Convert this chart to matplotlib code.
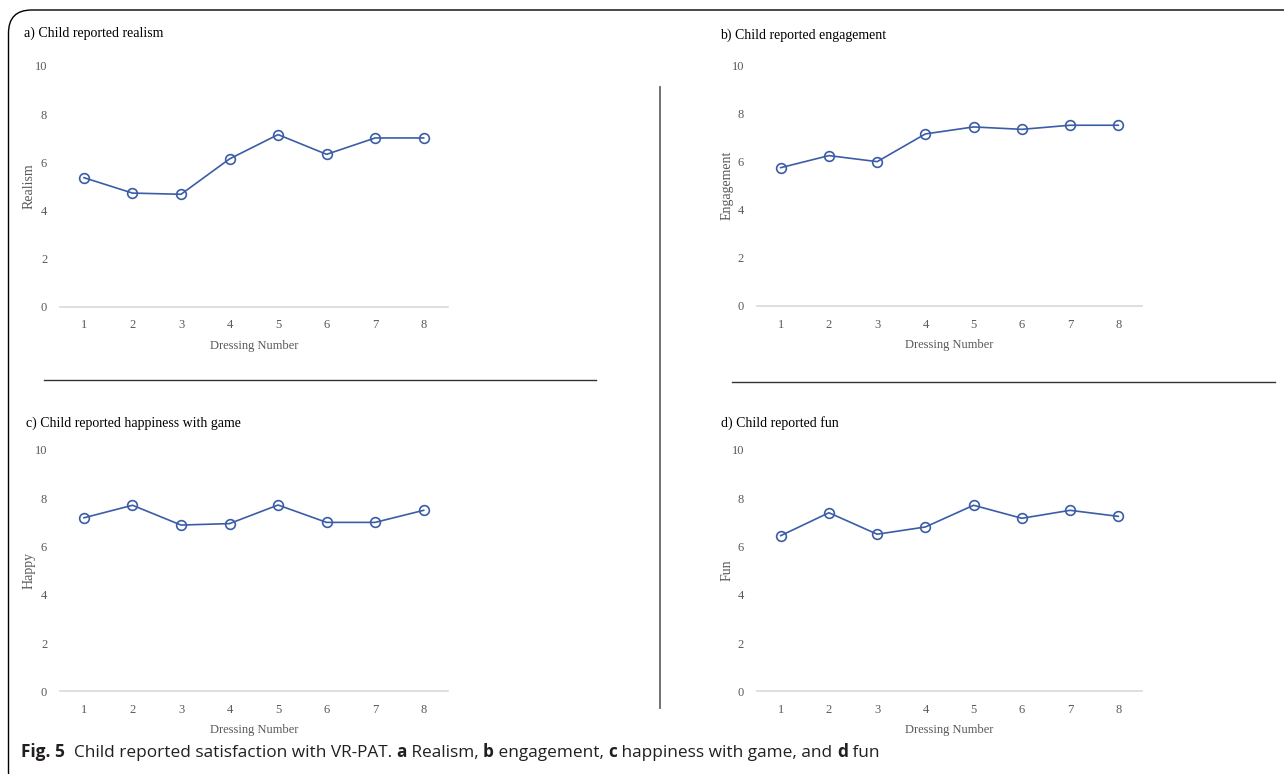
import matplotlib
matplotlib.use("Agg")
import matplotlib.pyplot as plt
from matplotlib.patches import FancyBboxPatch
from matplotlib.lines import Line2D

# ---- data ----
dressing = [1, 2, 3, 4, 5, 6, 7, 8]
realism = [5.36, 4.72, 4.67, 6.14, 7.15, 6.33, 7.01, 7.01]
engagement = [5.74, 6.24, 5.99, 7.14, 7.43, 7.33, 7.50, 7.50]
happy = [7.19, 7.71, 6.89, 6.95, 7.72, 7.00, 7.00, 7.50]
fun = [6.45, 7.40, 6.51, 6.81, 7.71, 7.17, 7.50, 7.25]
titles = ["a) Child reported realism", "b) Child reported engagement",
          "c) Child reported happiness with game", "d) Child reported fun"]
ylabels = ["Realism", "Engagement", "Happy", "Fun"]
xlabel = "Dressing Number"
yticks = [0, 2, 4, 6, 8, 10]

W, H = 1284, 774
fig = plt.figure(figsize=(W / 100, H / 100), dpi=100)

def fx(px):
    return px / W

def fy(py):
    return 1 - py / H

SERIF = "Liberation Serif"
GRAY = "#595959"
LINEC = "#3A5DA6"

# axes boxes in pixel coords: (left, right, top(y=10), bottom(y=0))
boxes = [
    (59.7, 447.9, 66.0, 306.7),
    (756.6, 1142.4, 65.0, 306.0),
    (59.7, 447.9, 450.0, 691.3),
    (756.6, 1142.4, 450.0, 691.3),
]
title_pos = [(24, 33), (720, 35), (26, 423), (720.5, 423)]
series = [realism, engagement, happy, fun]

for i in range(4):
    l, r, t, b = boxes[i]
    ax = fig.add_axes([fx(l), fy(b), fx(r) - fx(l), (b - t) / H])
    ax.plot(dressing, series[i], color=LINEC, lw=1.2, marker="o", ms=7,
            mfc="none", mec=LINEC, mew=1.2, clip_on=False)
    ax.set_xlim(0.5, 8.5)
    ax.set_ylim(0, 10)
    ax.set_xticks(dressing)
    ax.set_yticks(yticks)
    for s in ["top", "right", "left"]:
        ax.spines[s].set_visible(False)
    ax.spines["bottom"].set_color("#D9D9D9")
    ax.spines["bottom"].set_linewidth(1.2)
    ax.tick_params(length=0, colors=GRAY, labelsize=9)
    ax.tick_params(axis="x", pad=9)
    ax.tick_params(axis="y", pad=9)
    for lab in ax.get_xticklabels() + ax.get_yticklabels():
        lab.set_fontfamily(SERIF)
    ax.set_xlabel(xlabel, fontfamily=SERIF, fontsize=9, color=GRAY, labelpad=6)
    ax.set_ylabel(ylabels[i], fontfamily=SERIF, fontsize=10, color=GRAY)
    ax.yaxis.set_label_coords(-0.061, 0.5)
    ax.patch.set_alpha(0)
    tx, ty = title_pos[i]
    fig.text(fx(tx), fy(ty), titles[i], fontfamily=SERIF, fontsize=10,
             color="black", ha="left", va="center")

# separator lines
fig.add_artist(Line2D([fx(44), fx(596)], [fy(379.5), fy(379.5)], color="#333333", lw=1.0))
fig.add_artist(Line2D([fx(732), fx(1275)], [fy(382), fy(382)], color="#333333", lw=1.0))
fig.add_artist(Line2D([fx(660), fx(660)], [fy(87), fy(708)], color="#666666", lw=1.3))

# figure frame with rounded corner
frame = FancyBboxPatch((fx(8.5), fy(795)), fx(1320) - fx(8.5), (795 - 10) / H,
                       boxstyle="round,pad=0,rounding_size=0.018",
                       transform=fig.transFigure, fill=False, ec="black", lw=1.0,
                       clip_on=False, mutation_aspect=W / H)
fig.add_artist(frame)

# caption with mixed bold/normal pieces
CAP = "Open Sans"
pieces = [("Fig. 5", "bold"), ("  Child reported satisfaction with VR-PAT. ", "normal"),
          ("a", "bold"), (" Realism, ", "normal"), ("b", "bold"), (" engagement, ", "normal"),
          ("c", "bold"), (" happiness with game, and ", "normal"), ("d", "bold"), (" fun", "normal")]
prev = None
for txt, wt in pieces:
    if prev is None:
        prev = fig.text(fx(21), fy(757), txt, fontfamily=CAP, fontweight=wt,
                        fontsize=12.4, ha="left", va="baseline", color="#231F20")
    else:
        prev = plt.annotate(txt, xy=(1, 0), xycoords=prev, va="bottom", ha="left",
                            fontfamily=CAP, fontweight=wt, fontsize=12.4, color="#231F20",
                            annotation_clip=False)

fig.savefig("out.png", dpi=100)
